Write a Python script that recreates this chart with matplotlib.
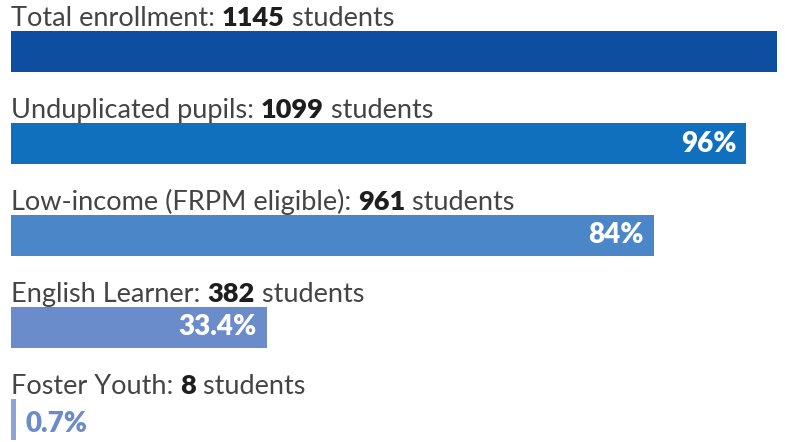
import matplotlib
matplotlib.use("Agg")
import matplotlib.pyplot as plt

labels = ["Total enrollment", "Unduplicated pupils", "Low-income (FRPM eligible)",
          "English Learner", "Foster Youth"]
counts = [1145, 1099, 961, 382, 8]
pct_labels = ["", "96%", "84%", "33.4%", "0.7%"]
colors = ["#0d4ea0", "#1170bd", "#4a86c8", "#6b8ccb", "#8ea3d6"]

plt.rcParams['font.family'] = ['Lato', 'DejaVu Sans']

fig = plt.figure(figsize=(7.85, 4.42), dpi=100)
ax = fig.add_axes([11 / 785, 0, 766 / 785, 1])
ax.set_xlim(0, counts[0])
ax.set_ylim(4.245, -0.56)
ax.axis('off')

rows = list(range(len(labels)))
ax.barh(rows, counts, height=0.445, color=colors, left=0)

renderer = fig.canvas.get_renderer()
inv = ax.transData.inverted()

def put(x, y, s, **kw):
    t = ax.text(x, y, s, fontsize=19.5, va='baseline', ha='left', **kw)
    bb = t.get_window_extent(renderer)
    return inv.transform((bb.x1, bb.y0))[0]

for i, (lab, n, p) in enumerate(zip(labels, counts, pct_labels)):
    y = i - 0.28
    x = put(0, y, lab + ": ", color="#444444")
    x = put(x, y, str(n), color="#1e1e1e", fontweight='heavy')
    put(x, y, " students", color="#444444")
    if not p:
        continue
    if n > 100:
        ax.annotate(p, xy=(n, i), xytext=(-10, 0), textcoords='offset pixels',
                    fontsize=20, fontweight='heavy', color='white',
                    ha='right', va='center')
    else:
        ax.annotate(p, xy=(n, i), xytext=(9, -5), textcoords='offset pixels',
                    fontsize=20, fontweight='heavy', color=colors[3],
                    ha='left', va='center')

fig.savefig("out.png", dpi=100)
